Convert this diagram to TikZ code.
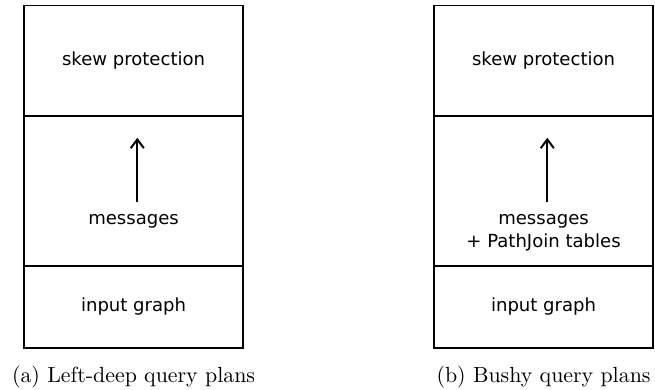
\documentclass[tikz,border=0pt]{standalone}
\usepackage{fontspec}
\usetikzlibrary{arrows.meta,positioning}
\newfontfamily\planfont{DejaVu Sans}

\begin{document}
\begin{tikzpicture}[node distance=0pt,
        layer/.style={rectangle,draw,line width=0.9pt,minimum width=3.52cm,
          outer sep=0pt,inner sep=0pt,align=center,font=\planfont\fontsize{8.25}{10.5}\selectfont},
        msgtext/.style={align=center,font=\planfont\fontsize{8.25}{10.5}\selectfont},
        flow/.style={line width=0.9pt,-{Straight Barb[length=4pt,width=6pt]}}]
        \useasboundingbox (0,0) rectangle (10.52,-6.25);
        % left-deep plans
        \node[layer,minimum height=1.78cm,anchor=north west] (skewL) at (0.385,-0.088) {skew protection};
        \node[layer,minimum height=2.40cm,below=of skewL] (msgL) {};
        \node[layer,minimum height=1.32cm,below=of msgL] (inL) {input graph};
        \coordinate[below right=0.345cm and 0.06cm of msgL.north] (tipL);
        \coordinate[below right=1.373cm and 0.06cm of msgL.north] (footL);
        \node[msgtext,anchor=north] (txtL) at ([yshift=-1.45cm]msgL.north) {messages};
        \draw[flow] (footL) -- (tipL);
        \node[below=0.16cm of inL] (capL) {(a) Left-deep query plans};
        % bushy plans
        \node[layer,minimum height=1.78cm,anchor=north west] (skewR) at (6.97,-0.088) {skew protection};
        \node[layer,minimum height=2.40cm,below=of skewR] (msgR) {};
        \node[layer,minimum height=1.32cm,below=of msgR] (inR) {input graph};
        \coordinate[below right=0.345cm and 0.06cm of msgR.north] (tipR);
        \coordinate[below right=1.373cm and 0.06cm of msgR.north] (footR);
        \node[msgtext,anchor=north] (txtR) at ([yshift=-1.45cm]msgR.north) {messages\\+ PathJoin tables};
        \draw[flow] (footR) -- (tipR);
        \node[below=0.16cm of inR] (capR) {(b) Bushy query plans};
\end{tikzpicture}
\end{document}
